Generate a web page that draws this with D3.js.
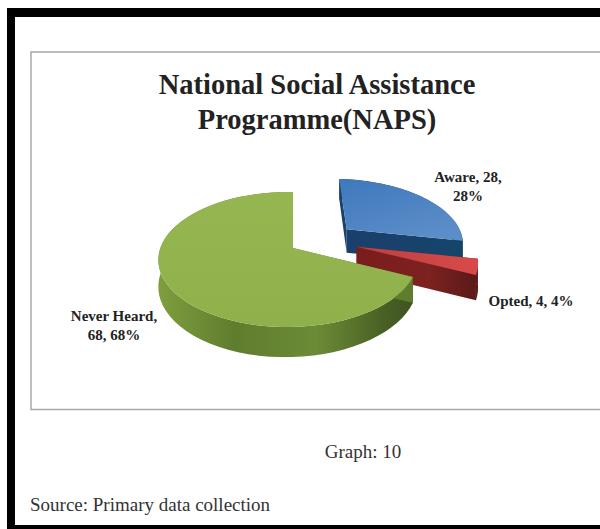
<!DOCTYPE html>
<html>
<head>
<meta charset="utf-8">
<script src="https://cdn.jsdelivr.net/npm/d3@7"></script>
<style>
html, body { margin: 0; padding: 0; background: #fff; }
svg { display: block; }
text { font-family: "Liberation Serif", serif; }
</style>
</head>
<body>
<svg id="chart" width="600" height="529"></svg>
<script>
const categories = ["Aware", "Opted", "Never Heard"];
const counts = [28, 4, 68];
const percents = [28, 4, 68];
const titleLines = ["National Social Assistance", "Programme(NAPS)"];

const svg = d3.select("#chart");

// Tilted-disc projection: unit disc coordinates to screen, with mild perspective
const cx = 293, cy = 248, rx = 127.5, ry = 65.5, kv = 0.17, ku = 0.039, depth = 25;
const project = (u, v, drop = 0) => {
  const w = 1 + kv * v + ku * u;
  return [cx + u * rx / w, cy - v * ry / w + drop / w];
};

// Exploded slices are pushed outward on the disc
const offsets = { "Aware": [0.45, 0.306], "Opted": [0.51, 0.02], "Never Heard": [0, 0] };

const slices = d3.pie().value(d => d.count).sort(null)(
  categories.map((name, i) => ({ name, count: counts[i], pct: percents[i] }))
);

const defs = svg.append("defs");
function gradient(id, stops, x2 = 1, y2 = 0) {
  const g = defs.append("linearGradient").attr("id", id)
    .attr("x1", 0).attr("y1", 0).attr("x2", x2).attr("y2", y2);
  stops.forEach(([o, c]) => g.append("stop").attr("offset", o).attr("stop-color", c));
}
gradient("greenTop", [[0, "#96b652"], [1, "#8fb04b"]], 0, 1);
gradient("greenWall", [[0, "#7f9e3e"], [0.3, "#5f7d2e"], [0.62, "#6c8b36"], [0.88, "#4a6124"], [1, "#3f5320"]]);
gradient("blueTop", [[0, "#3f78bd"], [1, "#5b8dc8"]], 0.6, 1);
gradient("blueCut", [[0, "#1b3f6c"], [1, "#15456a"]]);
gradient("redTop", [[0, "#b94240"], [1, "#d9494a"]]);
gradient("redCut", [[0, "#7a1c1c"], [0.6, "#7d2220"], [1, "#5a1a18"]]);

const fills = {
  "Aware": { top: "url(#blueTop)", wall: "#17466e", cut: "url(#blueCut)" },
  "Opted": { top: "url(#redTop)", wall: "#5e1716", cut: "url(#redCut)" },
  "Never Heard": { top: "url(#greenTop)", wall: "url(#greenWall)", cut: "#5f7d2e" }
};

const line = d3.line();
const rimAngles = (a0, a1) => d3.range(0, 61).map(i => a0 + (a1 - a0) * i / 60);

function drawSlice(s) {
  const [du, dv] = offsets[s.data.name];
  const style = fills[s.data.name];
  const g = svg.append("g").attr("class", "slice");
  const point = (a, r, drop = 0) => project(du + r * Math.sin(a), dv + r * Math.cos(a), drop);
  const rim = rimAngles(s.startAngle, s.endAngle);

  // Side wall along the rim
  const wall = rim.map(a => point(a, 1)).concat(rim.slice().reverse().map(a => point(a, 1, depth)));
  g.append("path").attr("d", line(wall) + "Z").attr("fill", style.wall);

  // Cut faces from the centre out to each end of the rim
  [s.startAngle, s.endAngle].forEach(a => {
    const face = [point(a, 0), point(a, 1), point(a, 1, depth), point(a, 0, depth)];
    g.append("path").attr("d", line(face) + "Z").attr("fill", style.cut);
  });

  // Top face
  const top = [point(0, 0)].concat(rim.map(a => point(a, 1)));
  g.append("path").attr("d", line(top) + "Z").attr("fill", style.top);
}

// Outer frame runs off the right edge of the page
svg.append("rect").attr("x", 7).attr("y", 8).attr("width", 600).attr("height", 530).attr("fill", "#000");
svg.append("rect").attr("x", 15).attr("y", 17).attr("width", 600).attr("height", 508).attr("fill", "#fff");
svg.append("rect").attr("x", 31).attr("y", 52).attr("width", 600).attr("height", 357.5)
  .attr("fill", "#fff").attr("stroke", "#a8a8a8").attr("stroke-width", 1.5);

// Back to front: blue, red, green
slices.forEach(drawSlice);

// Title
svg.append("g").selectAll("text").data(titleLines).join("text")
  .attr("x", 317).attr("y", (d, i) => 94 + i * 35)
  .attr("text-anchor", "middle").attr("font-weight", "bold").attr("font-size", 28.5)
  .attr("fill", "#222").text(d => d);

// Slice labels
const labelLines = [
  { i: 0, x: 468, y: 182, lines: d => [`${d.name}, ${d.count},`, `${d.pct}%`] },
  { i: 1, x: 531, y: 306, lines: d => [`${d.name}, ${d.count}, ${d.pct}%`] },
  { i: 2, x: 114, y: 321, lines: d => [`${d.name},`, `${d.count}, ${d.pct}%`] }
];
labelLines.forEach(l => {
  svg.append("g").selectAll("text").data(l.lines(slices[l.i].data)).join("text")
    .attr("x", l.x).attr("y", (d, i) => l.y + i * 19)
    .attr("text-anchor", "middle").attr("font-weight", "bold").attr("font-size", 15)
    .attr("fill", "#222").text(d => d);
});

// Captions
svg.append("text").attr("x", 363).attr("y", 458).attr("text-anchor", "middle")
  .attr("font-size", 19).attr("fill", "#333").text("Graph: 10");
svg.append("text").attr("x", 30).attr("y", 511)
  .attr("font-size", 19).attr("fill", "#333").text("Source: Primary data collection");
</script>
</body>
</html>
